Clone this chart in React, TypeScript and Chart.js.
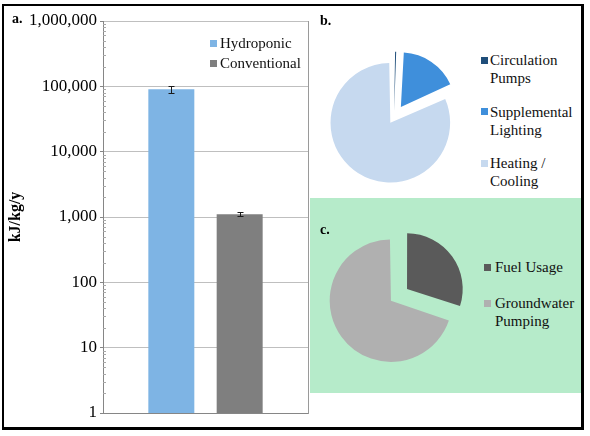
import React, { useEffect, useRef } from 'react';
import { Chart, registerables } from 'chart.js';

Chart.register(...registerables);

const SERIF = "'Liberation Serif', Tinos, 'Times New Roman', serif";

// ---- data ----
const BAR_SERIES = ['Hydroponic', 'Conventional'];
const BAR_VALUES = [90000, 1100];
const BAR_ERRORS = [11000, 80];
const BAR_COLORS = ['#7EB4E4', '#7F7F7F'];
const X_SLOTS = ['', 'Hydroponic', 'Conventional', ''];
const Y_TICKS = [1, 10, 100, 1000, 10000, 100000, 1000000];
const Y_TITLE = 'kJ/kg/y';

const PIE_B_LABELS = [['Circulation', 'Pumps'], ['Supplemental', 'Lighting'], ['Heating /', 'Cooling']];
const PIE_B_VALUES = [0.8, 17.4, 81.8];
const PIE_B_COLORS = ['#1F4E7A', '#3F8FDB', '#C6D9EF'];

const PIE_C_LABELS = [['Fuel Usage'], ['Groundwater', 'Pumping']];
const PIE_C_VALUES = [30, 70];
const PIE_C_COLORS = ['#5A5A5A', '#B0B0B0'];

function BarChart() {
  const ref = useRef<HTMLCanvasElement>(null);
  useEffect(() => {
    const errorBars = {
      id: 'errorBars',
      afterDatasetsDraw(chart: any) {
        const y = chart.scales.y;
        const ctx = chart.ctx;
        ctx.save();
        ctx.strokeStyle = '#1a1a1a';
        ctx.lineWidth = 1;
        chart.data.datasets.forEach((ds: any, i: number) => {
          const meta = chart.getDatasetMeta(i);
          meta.data.forEach((el: any, j: number) => {
            const v = ds.data[j];
            if (v == null) return;
            const e = BAR_ERRORS[i];
            const x = Math.round(el.x) + 0.5;
            const yt = Math.round(y.getPixelForValue(v + e)) + 0.5;
            const yb = Math.round(y.getPixelForValue(v - e)) + 0.5;
            ctx.beginPath();
            ctx.moveTo(x, yt);
            ctx.lineTo(x, yb);
            ctx.moveTo(x - 3, yt);
            ctx.lineTo(x + 3, yt);
            ctx.moveTo(x - 3, yb);
            ctx.lineTo(x + 3, yb);
            ctx.stroke();
          });
        });
        ctx.restore();
      },
    };
    const minorTicks = {
      id: 'minorTicks',
      afterDraw(chart: any) {
        const y = chart.scales.y;
        const ctx = chart.ctx;
        const left = chart.chartArea.left;
        ctx.save();
        ctx.strokeStyle = '#A8A8A8';
        ctx.lineWidth = 1;
        ctx.beginPath();
        for (let k = 0; k < Y_TICKS.length - 1; k++) {
          for (let m = 2; m <= 9; m++) {
            const py = Math.round(y.getPixelForValue(Y_TICKS[k] * m)) + 0.5;
            ctx.moveTo(left, py);
            ctx.lineTo(left + 3, py);
          }
        }
        ctx.stroke();
        ctx.restore();
      },
    };
    const chart = new Chart(ref.current as HTMLCanvasElement, {
      type: 'bar',
      data: {
        labels: X_SLOTS,
        datasets: BAR_SERIES.map((name, i) => ({
          label: name,
          data: X_SLOTS.map((s) => (s === name ? BAR_VALUES[i] : null)),
          backgroundColor: BAR_COLORS[i],
          borderWidth: 0,
          grouped: false,
          categoryPercentage: 1,
          barPercentage: 0.673,
          skipNull: true,
        })) as any,
      },
      options: {
        animation: false,
        responsive: false,
        maintainAspectRatio: false,
        layout: { padding: { left: 0, top: 21, right: 4, bottom: 23 } },
        plugins: { legend: { display: false }, tooltip: { enabled: false } },
        scales: {
          x: {
            type: 'category',
            offset: false,
            ticks: { display: false },
            grid: { display: false },
            border: { display: true, color: '#868686' },
            afterFit(s: any) { s.height = 0; },
          },
          y: {
            type: 'logarithmic',
            min: 1,
            max: 1000000,
            position: 'left',
            afterBuildTicks(s: any) {
              s.ticks = Y_TICKS.map((v) => ({ value: v, major: true }));
            },
            ticks: {
              callback: (v: any) => Number(v).toLocaleString('en-US'),
              color: '#000',
              font: { family: SERIF, size: 17 },
              padding: 3,
              autoSkip: false,
            },
            grid: { color: '#BFBFBF', tickColor: '#868686', tickLength: 3 },
            border: { color: '#868686' },
            title: {
              display: true,
              text: Y_TITLE,
              color: '#000',
              font: { family: SERIF, size: 16, weight: 'bold' },
              padding: { top: 6, bottom: 0 },
            },
            afterFit(s: any) { s.width = 103; },
          },
          y2: {
            position: 'right',
            display: true,
            ticks: { display: false },
            grid: { display: false },
            border: { color: '#9A9A9A' },
            afterFit(s: any) { s.width = 0; },
          },
        },
      } as any,
      plugins: [errorBars, minorTicks],
    });
    return () => chart.destroy();
  }, []);
  return (
    <canvas
      ref={ref}
      width={312}
      height={436}
      style={{ position: 'absolute', left: 0, top: 0, width: 312, height: 436 }}
    />
  );
}

function Pie(props: {
  labels: string[][];
  values: number[];
  colors: string[];
  radius: number;
  offsets: number[];
  left: number;
  top: number;
  size: number;
}) {
  const ref = useRef<HTMLCanvasElement>(null);
  useEffect(() => {
    const chart = new Chart(ref.current as HTMLCanvasElement, {
      type: 'pie',
      data: {
        labels: props.labels.map((l) => l.join(' ')),
        datasets: [
          {
            data: props.values,
            backgroundColor: props.colors,
            borderWidth: 0,
            offset: props.offsets,
            radius: props.radius,
          } as any,
        ],
      },
      options: {
        animation: false,
        responsive: false,
        maintainAspectRatio: false,
        layout: { padding: 0 },
        plugins: { legend: { display: false }, tooltip: { enabled: false } },
      } as any,
    });
    return () => chart.destroy();
  }, []);
  return (
    <canvas
      ref={ref}
      width={props.size}
      height={props.size}
      style={{ position: 'absolute', left: props.left, top: props.top, width: props.size, height: props.size }}
    />
  );
}

function LegendBlock(props: {
  labels: string[][];
  colors: string[];
  left: number;
  top: number;
  lineHeight: number;
  gap: number;
  textLeft: number;
}) {
  return (
    <div style={{ position: 'absolute', left: props.left, top: props.top, fontFamily: SERIF, fontSize: 15, color: '#111' }}>
      {props.labels.map((lines, i) => (
        <div key={i} style={{ position: 'relative', marginBottom: props.gap, lineHeight: props.lineHeight + 'px', whiteSpace: 'nowrap' }}>
          <div
            style={{
              position: 'absolute',
              left: 0,
              top: props.lineHeight / 2 - 3.5,
              width: 7,
              height: 7,
              background: props.colors[i],
            }}
          />
          <div style={{ paddingLeft: props.textLeft }}>
            {lines.map((t, k) => (
              <div key={k}>{t}</div>
            ))}
          </div>
        </div>
      ))}
    </div>
  );
}

export default function App() {
  return (
    <div style={{ position: 'absolute', left: 0, top: 0, width: 590, height: 436, background: '#fff', overflow: 'hidden' }}>
      <div
        style={{
          position: 'absolute',
          left: 310,
          top: 198,
          width: 272,
          height: 195,
          background: '#B6EBCA',
        }}
      />
      <BarChart />
      <Pie labels={PIE_B_LABELS} values={PIE_B_VALUES} colors={PIE_B_COLORS} radius={53} offsets={[25, 48.9, 27.2]} left={320} top={43} size={148} />
      <Pie labels={PIE_C_LABELS} values={PIE_C_VALUES} colors={PIE_C_COLORS} radius={55} offsets={[54.5, 25]} left={321} top={222} size={150} />
      <LegendBlock labels={BAR_SERIES.map((s) => [s])} colors={BAR_COLORS} left={210} top={33} lineHeight={20} gap={0} textLeft={10} />
      <LegendBlock labels={PIE_B_LABELS} colors={PIE_B_COLORS} left={481} top={51} lineHeight={18} gap={15.5} textLeft={9} />
      <LegendBlock labels={PIE_C_LABELS} colors={PIE_C_COLORS} left={484} top={258} lineHeight={18} gap={18} textLeft={11} />
      <div style={{ position: 'absolute', left: 12, top: 11, fontFamily: SERIF, fontSize: 14, fontWeight: 'bold', color: '#000' }}>a.</div>
      <div style={{ position: 'absolute', left: 320, top: 13, fontFamily: SERIF, fontSize: 14, fontWeight: 'bold', color: '#000' }}>b.</div>
      <div style={{ position: 'absolute', left: 320, top: 222, fontFamily: SERIF, fontSize: 14, fontWeight: 'bold', color: '#000' }}>c.</div>
      <div
        style={{
          position: 'absolute',
          left: 2,
          top: 4,
          width: 582,
          height: 426,
          boxSizing: 'border-box',
          borderTop: '2px solid #000',
          borderLeft: '2px solid #000',
          borderRight: '3px solid #000',
          borderBottom: '3px solid #000',
        }}
      />
    </div>
  );
}
